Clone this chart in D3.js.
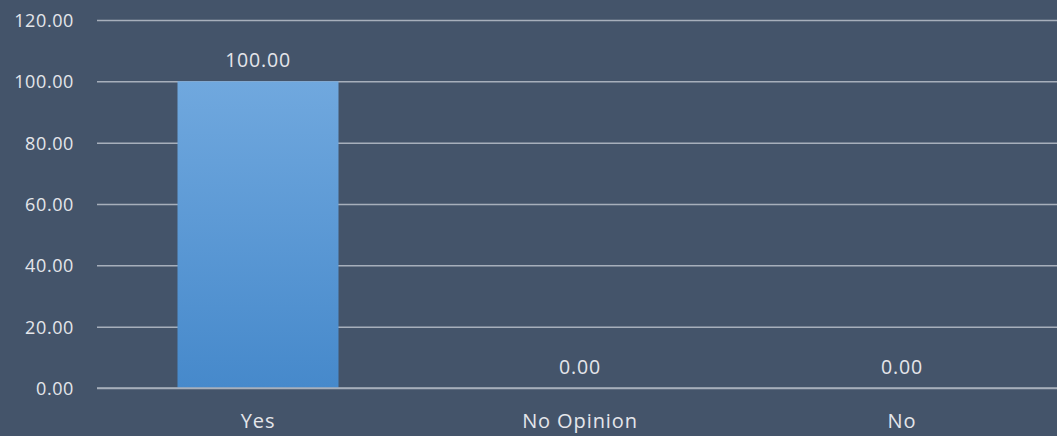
<!DOCTYPE html>
<html><head><meta charset="utf-8">
<script src="https://cdn.jsdelivr.net/npm/d3@7"></script>
<style>html,body{margin:0;padding:0;background:#44546a;}svg{display:block;}</style>
</head><body>
<svg id="c" width="1057" height="436"></svg>
<script>
const categories = ["Yes", "No Opinion", "No"];
const values = [100, 0, 0];
const yTicks = [0, 20, 40, 60, 80, 100, 120];

const W = 1057, H = 436;
const svg = d3.select("#c");
svg.append("rect").attr("width", W).attr("height", H).attr("fill", "#44546a");
const font = "'Open Sans', sans-serif";
const txt = "#e4e6ea";

const x = d3.scaleBand().domain(categories).range([97, 1063]).paddingInner(0.5).paddingOuter(0.25);
const y = d3.scaleLinear().domain([0, 120]).range([388, 20]);

const defs = svg.append("defs");
const g = defs.append("linearGradient").attr("id", "bg").attr("x1", 0).attr("y1", 0).attr("x2", 0).attr("y2", 1);
g.append("stop").attr("offset", "0%").attr("stop-color", "#70a8de");
g.append("stop").attr("offset", "100%").attr("stop-color", "#4689cb");

const grid = d3.axisLeft(y).tickValues(yTicks).tickSize(-(W - 97)).tickFormat(d => d.toFixed(2)).tickPadding(23);
const ga = svg.append("g").attr("transform", "translate(97,0)").call(grid);
ga.select(".domain").remove();
ga.selectAll(".tick line").attr("stroke", "#a7afbb").attr("stroke-width", 1.5);
ga.selectAll(".tick text").attr("fill", txt).attr("font-family", font).attr("font-size", 18)
  .attr("letter-spacing", 0.6).attr("dy", "0.36em");

svg.selectAll("rect.bar").data(values).enter().append("rect").attr("class", "bar")
  .attr("x", (d, i) => x(categories[i]))
  .attr("y", d => y(d))
  .attr("width", x.bandwidth())
  .attr("height", d => y(0) - y(d))
  .attr("fill", "url(#bg)");

svg.append("line").attr("x1", 97).attr("x2", W).attr("y1", y(0)).attr("y2", y(0)).attr("stroke", "#a7afbb").attr("stroke-width", 1.5);

svg.selectAll("text.val").data(values).enter().append("text").attr("class", "val")
  .attr("x", (d, i) => x(categories[i]) + x.bandwidth() / 2)
  .attr("y", d => y(d) - 14)
  .attr("text-anchor", "middle").attr("fill", txt).attr("font-family", font).attr("font-size", 19.5)
  .attr("letter-spacing", 0.8)
  .text(d => d.toFixed(2));

const xa = svg.append("g").attr("transform", `translate(0,${y(0)})`).call(d3.axisBottom(x).tickSize(0));
xa.select(".domain").remove();
xa.selectAll(".tick text").attr("fill", txt).attr("font-family", font).attr("font-size", 20)
  .attr("letter-spacing", 0.9).attr("y", 40).attr("dy", 0);
</script>
</body></html>
